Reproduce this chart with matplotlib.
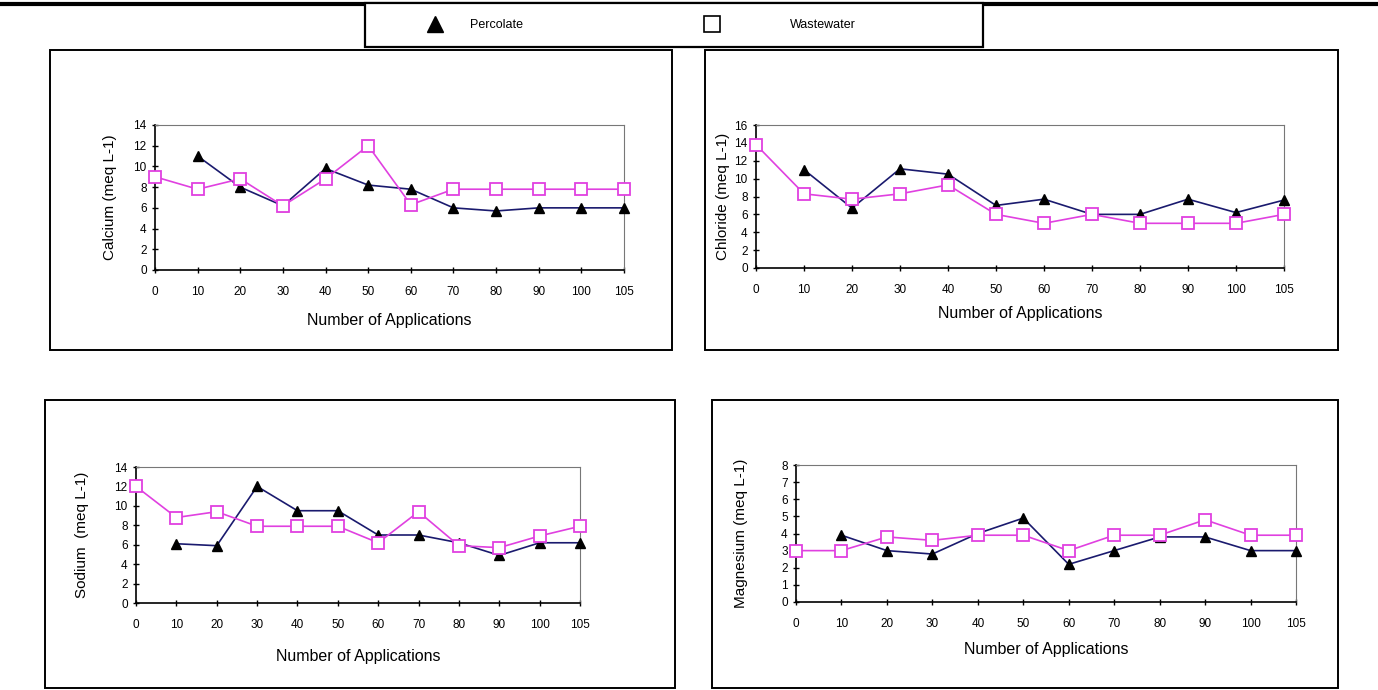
import matplotlib.pyplot as plt
from matplotlib.lines import Line2D
from matplotlib.patches import Rectangle

plt.rcParams['font.family'] = ['Liberation Sans', 'DejaVu Sans']

W, H = 1378, 690

apps = ["0", "10", "20", "30", "40", "50", "60", "70", "80", "90", "100", "105"]

# percolate starts at 10 applications (None = no point)
ca_perc = [None, 11, 8, 6.2, 9.8, 8.2, 7.8, 6, 5.7, 6, 6, 6]
ca_waste = [9, 7.8, 8.8, 6.2, 8.8, 12, 6.3, 7.8, 7.8, 7.8, 7.8, 7.8]

cl_perc = [None, 11, 6.7, 11.1, 10.5, 7, 7.7, 6, 6, 7.7, 6.2, 7.6]
cl_waste = [13.8, 8.3, 7.7, 8.3, 9.3, 6, 5, 6, 5, 5, 5, 6]

na_perc = [None, 6.1, 5.9, 12, 9.5, 9.5, 7, 7, 6.2, 4.9, 6.2, 6.2]
na_waste = [12, 8.8, 9.4, 7.9, 7.9, 7.9, 6.2, 9.4, 5.9, 5.7, 6.9, 7.9]

mg_perc = [None, 3.9, 3, 2.8, 4, 4.9, 2.2, 3, 3.8, 3.8, 3, 3]
mg_waste = [3, 3, 3.8, 3.6, 3.9, 3.9, 3, 3.9, 3.9, 4.8, 3.9, 3.9]

PERC_LINE = "#1a1a6e"
WASTE = "#e040e0"


def px_axes(fig, left, top, right, bottom):
    return fig.add_axes([left / W, 1 - bottom / H, (right - left) / W, (bottom - top) / H])


def frame(fig, left, top, right, bottom, lw=1.4, fill=False):
    fig.patches.append(Rectangle((left / W, 1 - bottom / H), (right - left) / W, (bottom - top) / H,
                                 transform=fig.transFigure, fill=fill, fc="white", ec="black", lw=lw,
                                 zorder=1))


def panel(ax, perc, waste, ymax, ylabel, ypad, xpad):
    idx = list(range(len(apps)))
    pi = [i for i in idx if perc[i] is not None]
    ax.plot(pi, [perc[i] for i in pi], color=PERC_LINE, lw=1.2, marker="^", ms=7,
            mfc="black", mec="black", clip_on=False, zorder=3)
    ax.plot(idx, waste, color=WASTE, lw=1.2, marker="s", ms=8, mfc="white",
            mec=WASTE, mew=1.3, clip_on=False, zorder=4)
    ax.set_xlim(0, len(apps) - 1)
    ax.set_ylim(0, ymax)
    ax.set_xticks(idx)
    ax.set_xticklabels(apps)
    ax.set_yticks(range(0, ymax + 1, 2 if ymax > 8 else 1))
    ax.tick_params(direction="inout", length=5, labelsize=8.5, width=1)
    ax.tick_params(axis="x", pad=9)
    for s in ("top", "right"):
        ax.spines[s].set_color("#777777")
    for s in ("left", "bottom"):
        ax.spines[s].set_linewidth(1.2)
    ax.set_xlabel("Number of Applications", fontsize=11.5, labelpad=xpad)
    ax.set_ylabel(ylabel, fontsize=11, labelpad=ypad)
    ax.set_zorder(2)


fig = plt.figure(figsize=(W / 100, H / 100), dpi=100)

# top rule
fig.add_artist(Line2D([0, 1], [1 - 4 / H, 1 - 4 / H], color="black", lw=3,
                      transform=fig.transFigure, zorder=0.5))

frame(fig, 50, 50, 672, 350)
frame(fig, 705, 50, 1338, 350)
frame(fig, 45, 400, 675, 688)
frame(fig, 712, 400, 1338, 688)
frame(fig, 365, 3, 983, 47, lw=1.6, fill=True)

ax1 = px_axes(fig, 155, 125, 624, 270)
panel(ax1, ca_perc, ca_waste, 14, "Calcium (meq L-1)", 12, 11)

ax2 = px_axes(fig, 756, 125, 1284, 268)
panel(ax2, cl_perc, cl_waste, 16, "Chloride (meq L-1)", 3, 7)

ax3 = px_axes(fig, 136, 467, 580, 603)
panel(ax3, na_perc, na_waste, 14, "Sodium  (meq L-1)", 18, 13)

ax4 = px_axes(fig, 796, 465, 1296, 602)
panel(ax4, mg_perc, mg_waste, 8, "Magnesium (meq L-1)", 24, 9)

h_perc = Line2D([], [], ls="none", marker="^", ms=11, mfc="black", mec="black")
h_waste = Line2D([], [], ls="none", marker="s", ms=12, mfc="white", mec="black", mew=1.2)
for h, lab, left, pad in ((h_perc, "Percolate", 422, 1.85), (h_waste, "Wastewater", 699.5, 5.2)):
    leg = fig.legend([h], [lab], loc="center left", bbox_to_anchor=(left / W, 1 - 25 / H),
                     frameon=False, fontsize=9, handletextpad=pad, borderpad=0,
                     borderaxespad=0, handlelength=2)
    leg.set_zorder(3)

fig.savefig("out.png", dpi=100)
